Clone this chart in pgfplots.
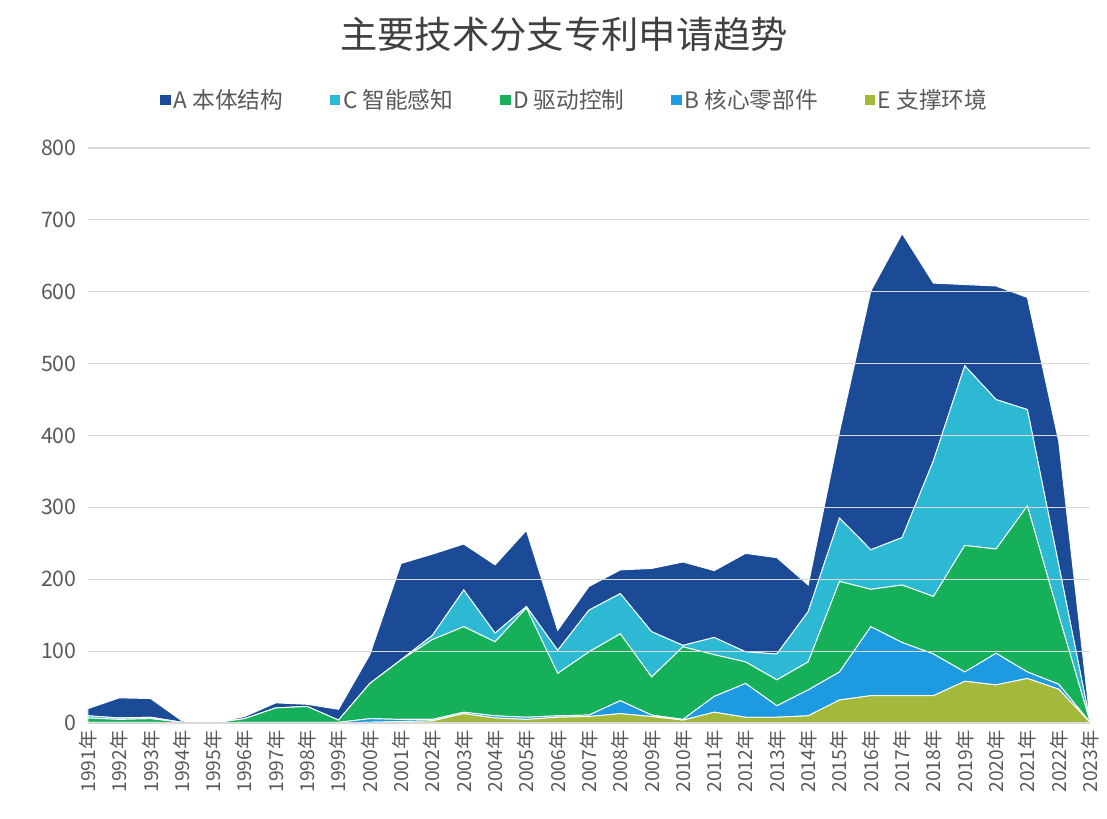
\documentclass[border=0pt]{standalone}
\usepackage{fontspec}
\setmainfont{Noto Sans CJK SC}
\usepackage{pgfplots}
\usepackage{pgfplotstable}
\pgfplotsset{compat=1.18}
\definecolor{cA}{HTML}{1B4B96}
\definecolor{cC}{HTML}{2DB9D3}
\definecolor{cD}{HTML}{16AF5A}
\definecolor{cB}{HTML}{1E9BE0}
\definecolor{cE}{HTML}{A4B83C}
\definecolor{tickgray}{HTML}{595959}
\definecolor{gridgray}{HTML}{D9D9D9}
\pgfplotstableread{
x E B D C A
0 0 1 6 3 10
1 0 1 4 2 28
2 0 1 5 2 26
3 0 0 1 0 2
4 0 0 0 0 0
5 0 1 5 0 3
6 0 1 20 0 7
7 0 1 22 0 3
8 0 1 3 0 15
9 1 5 49 0 40
10 2 3 83 0 134
11 3 2 111 6 113
12 13 2 119 51 64
13 7 3 103 12 95
14 5 3 152 2 106
15 8 2 59 32 28
16 9 2 88 58 33
17 13 18 93 56 33
18 9 2 53 63 88
19 4 1 101 2 116
20 15 22 58 24 93
21 8 47 30 14 137
22 8 16 36 36 134
23 10 36 39 70 37
24 32 39 126 88 120
25 38 96 52 55 360
26 38 74 80 66 423
27 38 58 80 189 247
28 58 13 176 250 113
29 53 44 145 208 158
30 62 9 231 134 156
31 47 7 96 70 172
32 1 0 1 1 2
}\datatable
\begin{document}
\begin{tikzpicture}
\begin{axis}[
  at={(0pt,0pt)}, anchor=south west,
  scale only axis,
  width=751.5pt, height=431.25pt,
  xmin=0, xmax=32, ymin=0, ymax=800,
  stack plots=y,
  area style,
  axis line style={draw=none},
  axis x line*=bottom,
  major tick length=0pt,
  ytick={0,100,...,800},
  ymajorgrids, grid style={gridgray, line width=0.8pt},
  xtick={0,...,32},
  xticklabels={1991年,1992年,1993年,1994年,1995年,1996年,1997年,1998年,1999年,2000年,2001年,2002年,2003年,2004年,2005年,2006年,2007年,2008年,2009年,2010年,2011年,2012年,2013年,2014年,2015年,2016年,2017年,2018年,2019年,2020年,2021年,2022年,2023年},
  xticklabel style={rotate=90, anchor=east, font=\fontsize{14.5}{16}\selectfont, text=tickgray, xshift=-2pt},
  yticklabel style={font=\fontsize{16}{18}\selectfont, text=tickgray, xshift=-5pt},
  /pgf/number format/assume math mode=true,
  reverse legend,
  legend columns=5,
  legend style={draw=none, fill=none, at={(0.486,1.0835)}, anchor=center,
    font=\fontsize{17}{19}\selectfont, text=tickgray,
    /tikz/every even column/.append style={column sep=33pt}},
  legend image code/.code={\fill[#1, draw=none] (0pt,-4pt) rectangle (8pt,4pt);},
  every axis plot/.append style={draw=white, line width=0.7pt},
]
\addplot[fill=cE] table[x=x,y=E]{\datatable} \closedcycle;
\addlegendentry{E 支撑环境}
\addplot[fill=cB] table[x=x,y=B]{\datatable} \closedcycle;
\addlegendentry{B 核心零部件}
\addplot[fill=cD] table[x=x,y=D]{\datatable} \closedcycle;
\addlegendentry{D 驱动控制}
\addplot[fill=cC] table[x=x,y=C]{\datatable} \closedcycle;
\addlegendentry{C 智能感知}
\addplot[fill=cA] table[x=x,y=A]{\datatable} \closedcycle;
\addlegendentry{A 本体结构}
\end{axis}
\node[font=\fontsize{28}{30}\selectfont, text=black!75] at (357pt,516.75pt) {主要技术分支专利申请趋势};
\draw[gridgray, line width=0.8pt] (0pt,0pt) -- (751.5pt,0pt);
\pgfresetboundingbox
\path[use as bounding box] (-66pt,-71.25pt) rectangle (764.25pt,542.25pt);
\end{tikzpicture}
\end{document}
